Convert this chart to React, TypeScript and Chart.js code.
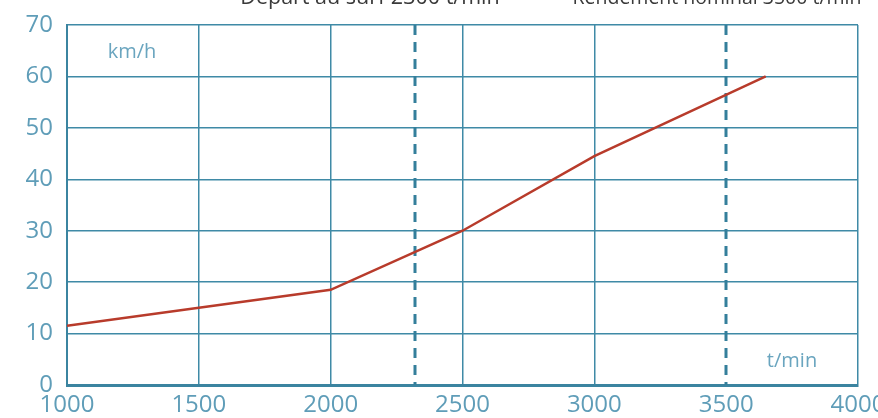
import React, { useEffect, useRef } from "react";
import { Chart, registerables } from "chart.js";

Chart.register(...registerables);

const rpm = [1000, 1500, 2000, 2500, 3000, 3650];
const speed = [11.5, 15, 18.5, 30, 44.5, 60];
const markerValues = [2318, 3500];
const markerLabels = ["Départ au surf 2300 t/min", "Rendement nominal 3500 t/min"];
const markerLabelCenter = [370, 717];
const markerLabelSize = [21.5, 19.5];
const yUnit = "km/h";
const xUnit = "t/min";

const FONT = "'Open Sans', 'Noto Sans', sans-serif";
const TICK_COLOR = "#5f9db8";
const GRID_COLOR = "#3f8aa6";

const overlay = {
  id: "overlay",
  beforeDatasetsDraw(chart: any) {
    const { ctx, scales, chartArea } = chart;
    const x = scales.x;
    ctx.save();
    ctx.strokeStyle = "#347f9b";
    ctx.lineWidth = 3;
    ctx.setLineDash([10, 7]);
    markerValues.forEach((v) => {
      const px = Math.round(x.getPixelForValue(v));
      ctx.beginPath();
      ctx.moveTo(px, chartArea.top);
      ctx.lineTo(px, chartArea.bottom);
      ctx.stroke();
    });
    ctx.setLineDash([]);
    ctx.fillStyle = "#6aa5bf";
    ctx.font = `20px ${FONT}`;
    ctx.textBaseline = "middle";
    ctx.textAlign = "center";
    ctx.fillText(yUnit, 132, 52);
    ctx.fillText(xUnit, 792, 361);
    ctx.restore();
  },
  afterDraw(chart: any) {
    const { ctx } = chart;
    ctx.save();
    ctx.fillStyle = "#3a3a3a";
    ctx.textBaseline = "alphabetic";
    ctx.textAlign = "center";
    markerLabels.forEach((t, i) => {
      ctx.font = `${markerLabelSize[i]}px ${FONT}`;
      ctx.fillText(t, markerLabelCenter[i], 4);
    });
    ctx.restore();
  },
};

export default function App() {
  const ref = useRef<HTMLCanvasElement>(null);
  useEffect(() => {
    if (!ref.current) return;
    const chart = new Chart(ref.current, {
      type: "line",
      data: {
        datasets: [
          {
            data: rpm.map((r, i) => ({ x: r, y: speed[i] })),
            borderColor: "#b83b2b",
            borderWidth: 2.5,
            pointRadius: 0,
            tension: 0,
          },
        ],
      },
      options: {
        animation: false,
        responsive: false,
        maintainAspectRatio: false,
        layout: { padding: { top: 25, right: 20, left: 0, bottom: 0 } },
        plugins: { legend: { display: false }, tooltip: { enabled: false } },
        scales: {
          x: {
            type: "linear",
            min: 1000,
            max: 4000,
            ticks: {
              stepSize: 500,
              color: TICK_COLOR,
              font: { family: FONT, size: 24 },
              padding: 6,
              maxRotation: 0,
              autoSkip: false,
              callback: (v: any) => String(v),
            },
            grid: {
              color: (c: any) =>
                c.tick && markerValues.includes(c.tick.value) ? "rgba(0,0,0,0)" : GRID_COLOR,
              lineWidth: 1.5,
              drawTicks: false,
            },
            border: { color: "#3b84a0", width: 3 },
            afterFit: (s: any) => {
              s.height = 33;
              s.paddingLeft = 0;
              s.paddingRight = 0;
            },
          },
          y: {
            min: 0,
            max: 70,
            ticks: {
              stepSize: 10,
              color: TICK_COLOR,
              font: { family: FONT, size: 24 },
              padding: 14,
              callback: (v: any) => String(v),
            },
            grid: { color: GRID_COLOR, lineWidth: 1.5, drawTicks: false },
            border: { color: "#3b84a0", width: 2 },
            afterFit: (s: any) => {
              s.width = 67;
              s.paddingTop = 0;
              s.paddingBottom = 0;
            },
          },
        },
      },
      plugins: [overlay],
    });
    return () => chart.destroy();
  }, []);
  return (
    <div style={{ position: "absolute", left: 0, top: 0, width: 878, height: 418 }}>
      <canvas ref={ref} width={878} height={418} style={{ width: 878, height: 418 }} />
    </div>
  );
}
